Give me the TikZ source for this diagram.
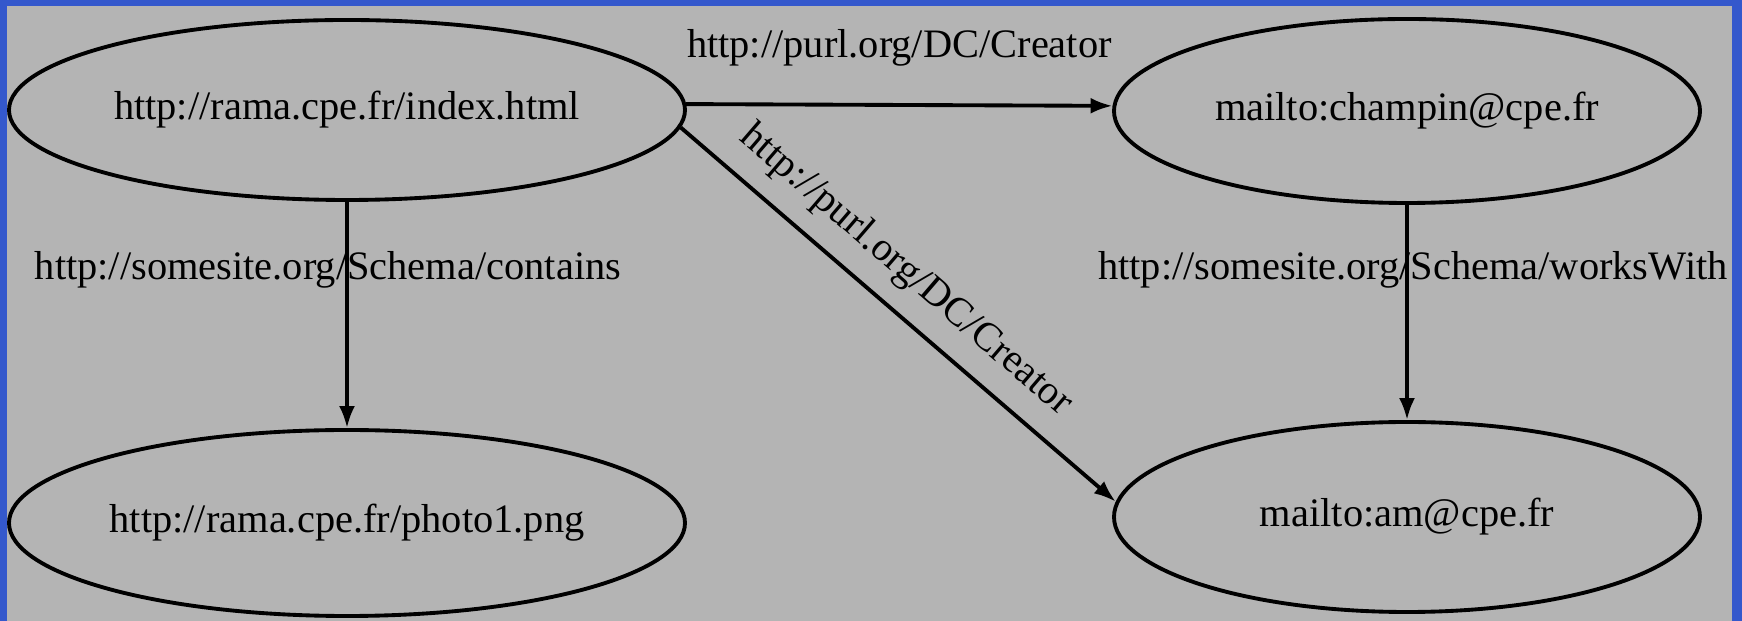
\documentclass[tikz,border=0pt]{standalone}
\usepackage{fontspec}
\setmainfont{Liberation Serif}
\usetikzlibrary{arrows.meta,shapes.geometric}
\definecolor{frameblue}{RGB}{52,88,204}
\definecolor{backgrey}{RGB}{180,180,180}

\begin{document}
\begin{tikzpicture}[x=0.1mm, y=-0.1mm, >={Latex[length=2.2mm,width=1.6mm]}, line width=1.1pt,
  font=\fontsize{11.5}{13}\selectfont,
  res/.style={ellipse, draw, inner sep=0pt, minimum width=67.6mm, minimum height=18mm},
  resr/.style={ellipse, draw, inner sep=0pt, minimum width=58.6mm, minimum height=18.4mm}]
\useasboundingbox (0,0) rectangle (1742,621);
\fill[frameblue] (0,0) rectangle (1742,621);
\fill[backgrey] (7,6) rectangle (1732,621);

\node[res] (R1) at (347,110) {http://rama.cpe.fr/index.html};
\node[res, minimum height=18.6mm] (R2) at (347,523) {http://rama.cpe.fr/photo1.png};
\node[resr] (R3) at (1407,111) {mailto:champin@cpe.fr};
\node[resr, minimum height=19mm] (R4) at (1407,517) {mailto:am@cpe.fr};

\draw[->] (R1.1) -- (R3.179) node[midway, above=2.5mm]{http://purl.org/DC/Creator};
\draw[->] (R1) -- (R2) node[pos=0.3, xshift=-1.9mm]{http://somesite.org/Schema/contains};
\draw[->] (R3) -- (R4) node[pos=0.3, xshift=0.6mm]{http://somesite.org/Schema/worksWith};
\draw[->] (R1.-3) -- (R4.177) node[pos=0.46, sloped, above=0.6mm]{http://purl.org/DC/Creator};
\end{tikzpicture}
\end{document}
